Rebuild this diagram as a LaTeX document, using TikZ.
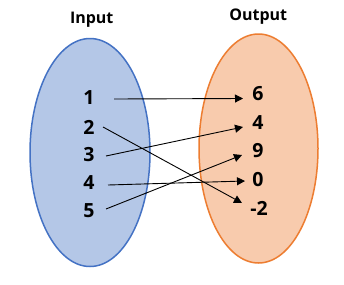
\documentclass[tikz,border=0pt]{standalone}
\usepackage{fontspec}
\setmainfont{Open Sans}
\usetikzlibrary{arrows.meta}
\definecolor{inFill}{HTML}{B4C7E7}
\definecolor{inLine}{HTML}{4472C4}
\definecolor{outFill}{HTML}{F8CBAD}
\definecolor{outLine}{HTML}{ED7D31}
\begin{document}
\begin{tikzpicture}[x=1pt,y=-1pt,
  num/.style={font=\fontsize{19.5}{22}\selectfont\bfseries, inner sep=0pt, anchor=center},
  ttl/.style={font=\fontsize{16}{18}\selectfont\bfseries, inner sep=0pt, anchor=base},
  arr/.style={-{Triangle[length=8pt,width=8pt]}, line width=0.9pt, black},
  setIn/.style={draw=inLine, fill=inFill, line width=1.5pt},
  setOut/.style={draw=outLine, fill=outFill, line width=1.5pt}]
\useasboundingbox (0,0) rectangle (344,284);
\fill[white] (0,0) rectangle (344,284);
\draw[setIn] (90,152.5) ellipse [x radius=60, y radius=114];
\draw[setOut] (258.5,148.5) ellipse [x radius=59.5, y radius=114.5];
\node[ttl] (tin) at (91.7,23.3) {Input};
\node[ttl] (tout) at (258.3,20.8) {Output};
\node[num] (l1) at (89,98) {1};
\node[num] (l2) at (89,127) {2};
\node[num] (l3) at (89,155) {3};
\node[num] (l4) at (89,183) {4};
\node[num] (l5) at (89,211) {5};
\node[num] (r6) at (258,94) {6};
\node[num] (r4) at (258,123) {4};
\node[num] (r9) at (258,151) {9};
\node[num] (r0) at (258,180) {0};
\node[num] (rm) at (259,208) {-2};
\path (l1) ++(25,1) coordinate (s1);
\path (l2) ++(14,0) coordinate (s2);
\path (l3) ++(17,1) coordinate (s3);
\path (l4) ++(19,2) coordinate (s4);
\path (l5) ++(17,-2) coordinate (s5);
\path (r6) ++(-15,4.5) coordinate (e6);
\path (r4) ++(-15,4) coordinate (e4);
\path (r9) ++(-16,4) coordinate (e9);
\path (r0) ++(-13,1) coordinate (e0);
\path (rm) ++(-17,-5) coordinate (em);
\draw[arr] (s1) -- (e6);
\draw[arr] (s2) -- (em);
\draw[arr] (s3) -- (e4);
\draw[arr] (s4) -- (e0);
\draw[arr] (s5) -- (e9);
\end{tikzpicture}
\end{document}
